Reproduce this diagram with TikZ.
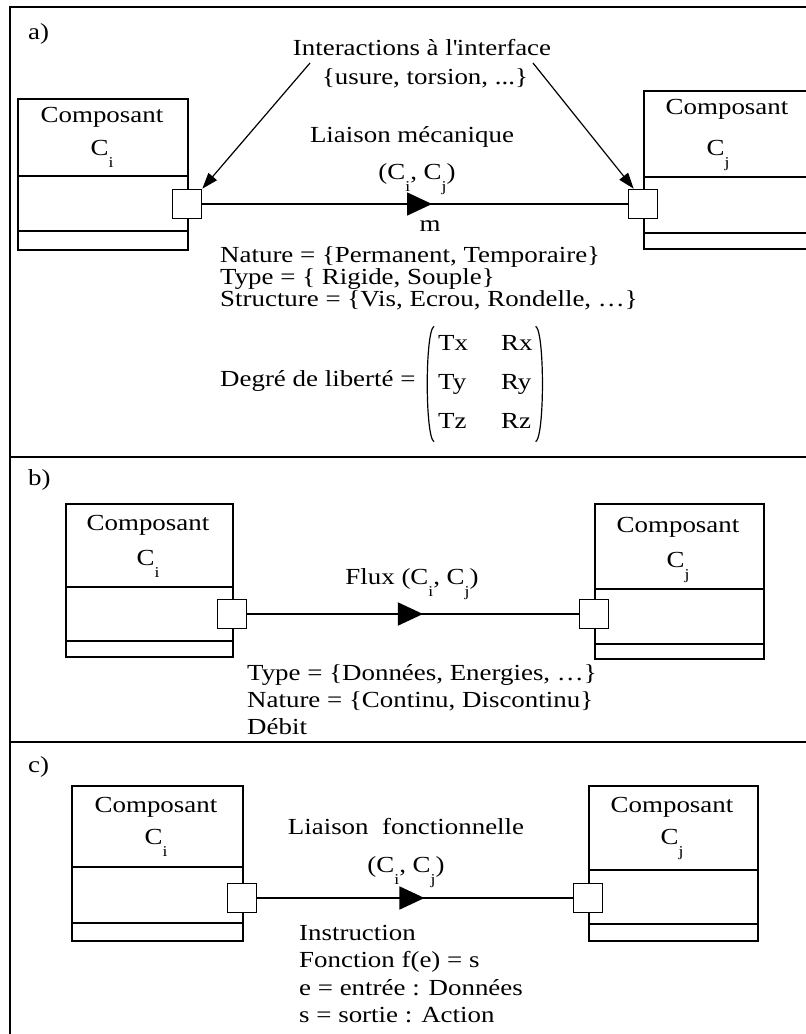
\documentclass[tikz,border=0pt]{standalone}
\usepackage{fontspec}
\setmainfont{Liberation Serif}[FakeStretch=1.17]
\usetikzlibrary{arrows.meta,decorations.markings}
\newcommand{\Cx}[1]{C\raisebox{-12pt}{\fontsize{15}{15}\selectfont #1}}

\begin{document}
\begin{tikzpicture}[x=1pt,y=-1pt,
  font=\fontsize{23}{27}\selectfont,
  every node/.style={inner sep=0pt},
  panel/.style={line width=2.2pt},
  compbox/.style={draw, line width=1.6pt, anchor=north west},
  port/.style={draw, fill=white, line width=1.6pt, minimum size=29},
  flow/.style={line width=1.6pt, postaction={decorate},
    decoration={markings, mark=at position #1 with {\arrow{Triangle[length=25pt,width=23pt]}}}},
  flow/.default=0.53,
  pointer/.style={line width=1.2pt, -{Triangle[length=16pt,width=11pt]}}]
\clip (0,0) rectangle (806,1034);
\draw[panel] (830,7) -- (10,7) -- (10,1050);
\draw[panel] (10,457) -- (830,457);
\draw[panel] (10,742) -- (830,742);

\node[compbox, minimum width=170, minimum height=151] (bai) at (17,98) {};
\draw[line width=1.6pt] (17,176) -- (187,176) (17,231) -- (187,231);
\node[compbox, minimum width=168, minimum height=158] (baj) at (643,90) {};
\draw[line width=1.6pt] (643,177) -- (811,177) (643,233) -- (811,233);
\node[compbox, minimum width=167, minimum height=153] (bbi) at (65,503) {};
\draw[line width=1.6pt] (65,587) -- (232,587) (65,641) -- (232,641);
\node[compbox, minimum width=169, minimum height=155] (bbj) at (594,503) {};
\draw[line width=1.6pt] (594,589) -- (763,589) (594,644) -- (763,644);
\node[compbox, minimum width=171, minimum height=155] (bci) at (71,785) {};
\draw[line width=1.6pt] (71,867) -- (242,867) (71,923) -- (242,923);
\node[compbox, minimum width=169, minimum height=155] (bcj) at (588,785) {};
\draw[line width=1.6pt] (588,870) -- (757,870) (588,924) -- (757,924);

\node[anchor=base] (tai) at (102,122) {Composant};
\node[anchor=base] (cai) at (102,155) {\Cx{i}};
\node[anchor=base] (taj) at (727,114) {Composant};
\node[anchor=base] (caj) at (718,155) {\Cx{j}};
\node[anchor=base] (tbi) at (148,530) {Composant};
\node[anchor=base] (cbi) at (148,565) {\Cx{i}};
\node[anchor=base] (tbj) at (678,532) {Composant};
\node[anchor=base] (cbj) at (678,567) {\Cx{j}};
\node[anchor=base] (tci) at (156,812) {Composant};
\node[anchor=base] (cci) at (156,844) {\Cx{i}};
\node[anchor=base] (tcj) at (672,812) {Composant};
\node[anchor=base] (ccj) at (672,844) {\Cx{j}};

\node[port] (pai) at (187,204) {};
\node[port] (paj) at (643,204) {};
\node[port] (pbi) at (232,614) {};
\node[port] (pbj) at (594,614) {};
\node[port] (pci) at (242,898) {};
\node[port] (pcj) at (588,898) {};

\draw[flow=0.54] (pai) -- (paj);
\draw[flow] (pbi) -- (pbj);
\draw[flow] (pci) -- (pcj);

\node[anchor=base west] (la) at (28,39) {a)};
\node[anchor=base west] (lb) at (28,485) {b)};
\node[anchor=base west] (lc) at (28,772) {c)};

\node[anchor=base] (inta) at (422,55) {Interactions à l\textquotesingle interface};
\node[anchor=base] (intb) at (425,84) {\{usure, torsion, ...\}};
\coordinate (ua) at (310,63);
\coordinate (ub) at (533,63);
\draw[pointer] (ua) -- (pai.north east);
\draw[pointer] (ub) -- ([xshift=6pt]paj.north west);

\node[anchor=base] (mec) at (412,142) {Liaison mécanique};
\node[anchor=base] (mecc) at (417,179) {(\Cx{i}, \Cx{j})};
\node[anchor=base] (m) at (430,231) {m};
\foreach \txt [count=\k] in {{Nature = \{Permanent, Temporaire\}},
    {Type = \{ Rigide, Souple\}}, {Structure = \{Vis, Ecrou, Rondelle, …\}}}
  \node[anchor=base west] (pa\k) at (220,240+22*\k) {\txt};
\node[anchor=base west] (deg) at (220,386) {Degré de liberté =};
\node[anchor=west] (dof) at (438,384)
  {\begin{tabular}{@{}l@{\hspace{33pt}}l@{}}Tx & Rx\\[12pt] Ty & Ry\\[12pt] Tz & Rz\end{tabular}};
\draw[line width=1.2pt] ([xshift=-4pt,yshift=5pt]dof.north west)
  .. controls ([xshift=-13pt]dof.north west) and ([xshift=-13pt]dof.south west)
  .. ([xshift=-4pt,yshift=-5pt]dof.south west);
\draw[line width=1.2pt] ([xshift=3pt,yshift=5pt]dof.north east)
  .. controls ([xshift=12pt]dof.north east) and ([xshift=12pt]dof.south east)
  .. ([xshift=3pt,yshift=-5pt]dof.south east);

\node[anchor=base] (flux) at (412,584) {Flux (\Cx{i}, \Cx{j})};
\foreach \txt [count=\k] in {{Type = \{Données, Energies, …\}},
    {Nature = \{Continu, Discontinu\}}, {Débit}}
  \node[anchor=base west] (pb\k) at (247,653+27*\k) {\txt};

\node[anchor=base] (fct) at (406,834) {Liaison\ \ fonctionnelle};
\node[anchor=base] (fctc) at (406,872) {(\Cx{i}, \Cx{j})};
\foreach \txt [count=\k] in {{Instruction}, {Fonction f(e) = s},
    {e = entrée : Données}, {s = sortie : Action}}
  \node[anchor=base west] (pc\k) at (299,912.5+27.5*\k) {\txt};
\end{tikzpicture}
\end{document}
